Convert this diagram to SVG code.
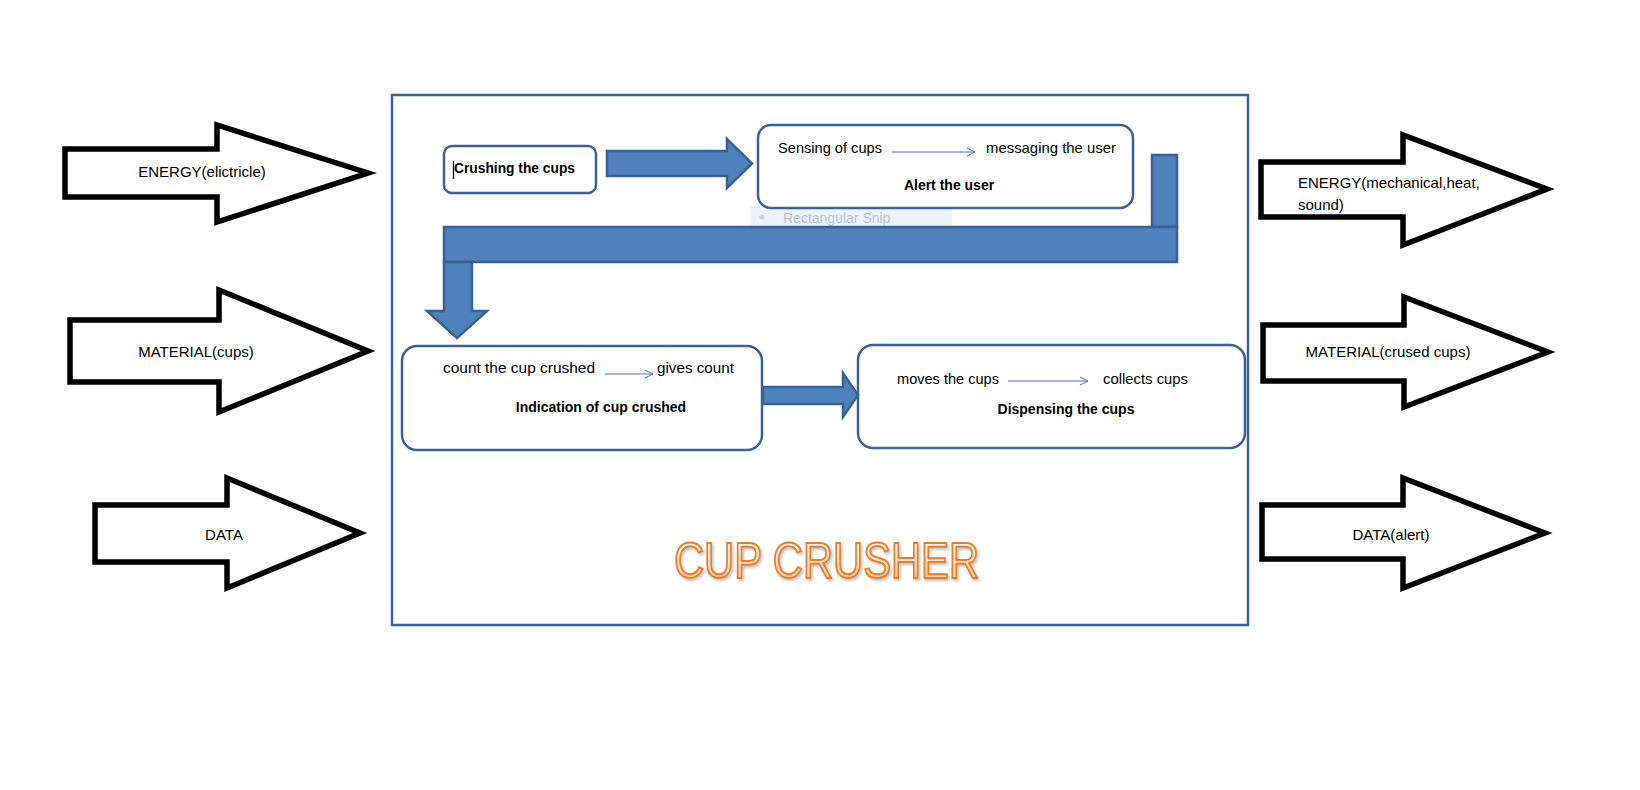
<svg xmlns="http://www.w3.org/2000/svg" width="1640" height="790" viewBox="0 0 1640 790">
<defs>
<style>
.io{fill:#fff;stroke:#000;stroke-width:5.5;stroke-linejoin:miter}
.box{fill:#fff;stroke:#3d6190;stroke-width:2.5}
.blue{fill:#4f81bd;stroke:#3a6291;stroke-width:2.5;stroke-linejoin:miter}
.t{font-family:"Liberation Sans",Arial,sans-serif;font-size:14.5px;fill:#000}
.b{font-family:"Liberation Sans",Arial,sans-serif;font-size:14px;font-weight:bold;fill:#000}
.io-t{font-family:"Liberation Sans",Arial,sans-serif;font-size:15px;fill:#000}
.thin{stroke:#4a75a8;stroke-width:1;fill:none}
</style>
<marker id="open" viewBox="0 0 10 10" refX="9" refY="5" markerWidth="10" markerHeight="10" markerUnits="userSpaceOnUse" orient="auto">
<path d="M1,1 L9,5 L1,9" fill="none" stroke="#4a75a8" stroke-width="1"/>
</marker>
<linearGradient id="og" x1="0" y1="0" x2="0" y2="1">
<stop offset="0" stop-color="#ffffff"/>
<stop offset="1" stop-color="#f8bf8c"/>
</linearGradient>
<filter id="sh" x="-5%" y="-20%" width="110%" height="150%">
<feDropShadow dx="1.5" dy="2" stdDeviation="1.5" flood-color="#000" flood-opacity="0.25"/>
</filter>
</defs>
<rect width="1640" height="790" fill="#fff"/>

<g id="in-energy">
<polygon class="io" points="65,149 217,149 217,125 368,173 217,222 217,197 65,197"/>
<text class="io-t" x="202" y="177" text-anchor="middle">ENERGY(elictricle)</text>
</g>
<g id="in-material">
<polygon class="io" points="70,320 219,320 219,290 368,351 219,412 219,382 70,382"/>
<text class="io-t" x="196" y="357" text-anchor="middle">MATERIAL(cups)</text>
</g>
<g id="in-data">
<polygon class="io" points="95,505 227,505 227,478 360,533 227,588 227,562 95,562"/>
<text class="io-t" x="224" y="540" text-anchor="middle">DATA</text>
</g>

<g id="out-energy">
<polygon class="io" points="1261,162 1403,162 1403,135 1547,189 1403,245 1403,217 1261,217"/>
<text class="io-t" x="1298" y="188">ENERGY(mechanical,heat,</text>
<text class="io-t" x="1298" y="210">sound)</text>
</g>
<g id="out-material">
<polygon class="io" points="1263,325 1404,325 1404,297 1548,352 1404,407 1404,381 1263,381"/>
<text class="io-t" x="1388" y="357" text-anchor="middle">MATERIAL(crused cups)</text>
</g>
<g id="out-data">
<polygon class="io" points="1262,505 1403,505 1403,478 1545,533 1403,588 1403,559 1262,559"/>
<text class="io-t" x="1391" y="540" text-anchor="middle">DATA(alert)</text>
</g>

<g id="cup-crusher">
<rect x="392" y="95" width="856" height="530" fill="none" stroke="#3d6190" stroke-width="2.5"/>
<text x="674" y="578" textLength="305" lengthAdjust="spacingAndGlyphs" font-family="'Liberation Sans',Arial,sans-serif" font-size="50" fill="url(#og)" stroke="#e57f2e" stroke-width="2" filter="url(#sh)">CUP CRUSHER</text>
</g>

<g id="snip-ghost">
<rect x="750" y="206" width="202" height="21" fill="#edf3fa"/>
<circle cx="762" cy="217" r="2.5" fill="#c3d1e3"/>
<text x="783" y="223" font-family="'Liberation Sans',Arial,sans-serif" font-size="14" fill="#b4c5da">Rectangular Snip</text>
</g>

<g id="node-crushing">
<rect class="box" x="444" y="146" width="152" height="47" rx="8"/>
<line x1="453.5" y1="161" x2="453.5" y2="179" stroke="#000" stroke-width="1.3"/>
<text class="b" x="454" y="173" font-size="13" textLength="121" lengthAdjust="spacingAndGlyphs">Crushing the cups</text>
</g>

<g id="node-alert">
<rect class="box" x="758" y="125" width="375" height="83" rx="13"/>
<text class="t" x="778" y="153" textLength="104" lengthAdjust="spacingAndGlyphs">Sensing of cups</text>
<line class="thin" x1="892" y1="152" x2="975" y2="152" marker-end="url(#open)"/>
<text class="t" x="986" y="153" textLength="130" lengthAdjust="spacingAndGlyphs">messaging the user</text>
<text class="b" x="949" y="190" text-anchor="middle">Alert the user</text>
</g>

<g id="node-indication">
<rect class="box" x="402" y="346" width="360" height="104" rx="15"/>
<text class="t" x="443" y="373" textLength="152" lengthAdjust="spacingAndGlyphs">count the cup crushed</text>
<line class="thin" x1="605" y1="374" x2="653" y2="374" marker-end="url(#open)"/>
<text class="t" x="657" y="373" textLength="77" lengthAdjust="spacingAndGlyphs">gives count</text>
<text class="b" x="601" y="412" text-anchor="middle">Indication of cup crushed</text>
</g>

<g id="node-dispensing">
<rect class="box" x="858" y="345" width="387" height="103" rx="15"/>
<text class="t" x="897" y="384" textLength="102" lengthAdjust="spacingAndGlyphs">moves the cups</text>
<line class="thin" x1="1008" y1="381" x2="1088" y2="381" marker-end="url(#open)"/>
<text class="t" x="1103" y="384" textLength="85" lengthAdjust="spacingAndGlyphs">collects cups</text>
<text class="b" x="1066" y="414" text-anchor="middle">Dispensing the cups</text>
</g>

<g id="connectors">
<polygon class="blue" points="607,151 727,151 727,139 752,163.5 727,188 727,176 607,176"/>
<rect class="blue" x="1152" y="155" width="25" height="72"/>
<rect class="blue" x="444" y="227" width="733" height="35"/>
<polygon class="blue" points="444,262 472,262 472,311 487,311 457,338 427,311 444,311"/>
<polygon class="blue" points="763,387 843,387 843,373 858,395 843,417 843,404 763,404"/>
</g>
</svg>
